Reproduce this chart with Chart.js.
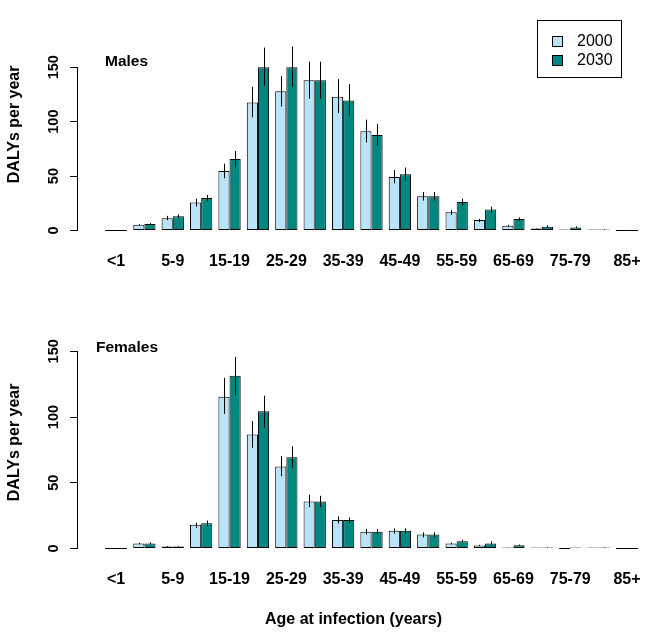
<!DOCTYPE html>
<html>
<head>
<meta charset="utf-8">
<script src="https://cdn.jsdelivr.net/npm/chart.js@4.4.1/dist/chart.umd.min.js"></script>
<style>
  body { margin: 0; background: #fff; }
  canvas { position: absolute; left: 0; }
  #males { top: 0; }
  #females { top: 318px; }
</style>
</head>
<body>
<canvas id="males" width="671" height="318"></canvas>
<canvas id="females" width="671" height="319"></canvas>
<script>
const ageGroups = ['<1', '1-4', '5-9', '10-14', '15-19', '20-24', '25-29', '30-34', '35-39', '40-44',
    '45-49', '50-54', '55-59', '60-64', '65-69', '70-74', '75-79', '80-84', '85+'];
const yTicks = [0, 50, 100, 150];

const males2000   = [0, 5.3, 11.4, 25.7, 54.7, 117.5, 128, 138, 122.8, 91.2, 49.1, 31.6, 16.7, 9.6, 4.5, 1.8, 0.6, 0.2, 0];
const males2000Lo = [0, 4.8, 9.5, 21.9, 48, 104, 114, 121, 108, 81, 43.3, 27.5, 14.3, 7.6, 3.8, 1.6, 0.5, 0.2, 0];
const males2000Hi = [0, 5.9, 13.5, 29.2, 61.4, 132, 142, 155, 139, 101.8, 55.6, 35.4, 19, 10.8, 5.2, 2.0, 0.7, 0.2, 0];
const males2030   = [0, 6.1, 13.2, 29.8, 65.8, 150, 150, 138, 119.3, 87.7, 51.8, 31.6, 26.3, 19.3, 10.5, 3.6, 2.8, 1.0, 0];
const males2030Lo = [0, 5.4, 11.5, 26.6, 58, 133, 132, 121, 105, 78, 45.9, 27.5, 22.8, 16.4, 8.8, 2.8, 2.1, 0.7, 0];
const males2030Hi = [0, 6.8, 14.9, 32.7, 73, 168, 169, 155, 134.5, 98, 57.9, 35.4, 29.2, 21.9, 12.1, 4.8, 3.8, 1.3, 0];

const females2000   = [0, 3.7, 1.5, 18, 115.5, 86.7, 62.3, 35.7, 21.7, 12.8, 13.5, 10.6, 3.8, 2.2, 0.6, 0.1, 0, 0.1, 0];
const females2000Lo = [0, 3.2, 1.2, 15.5, 102.5, 76.6, 54.9, 31.5, 19, 10.6, 11.3, 8.4, 3.2, 1.8, 0.5, 0.1, 0, 0.1, 0];
const females2000Hi = [0, 4.3, 1.8, 19.7, 129.8, 97, 70.4, 40.9, 24.4, 14.8, 15.3, 12.3, 4.5, 2.8, 0.8, 0.1, 0, 0.1, 0];
const females2030   = [0, 3.7, 1.5, 19.2, 131.5, 104.4, 69.5, 35.7, 21.7, 12.8, 13.5, 10.6, 5.4, 3.8, 2.4, 0.8, 0.1, 0.8, 0];
const females2030Lo = [0, 3.2, 1.2, 16.7, 116.5, 91.9, 61.6, 31.5, 19, 10.6, 11.3, 8.4, 4.5, 3.0, 2.0, 0.6, 0.1, 0.6, 0];
const females2030Hi = [0, 4.7, 1.8, 21.2, 145.8, 116.3, 77.8, 40.1, 23.6, 14.8, 15.3, 12.3, 6.6, 5.4, 3.0, 1.1, 0.2, 1.0, 0];

const seriesNames = ['2000', '2030'];
const seriesColors = ['#B9E3F9', '#008780'];

Chart.defaults.font.family = "'Liberation Sans', Arial, sans-serif";
Chart.defaults.color = '#000';

// vertical error bars over each bar
const errorBars = {
    id: 'errorBars',
    afterDatasetsDraw(chart) {
        const ctx = chart.ctx;
        const y = chart.scales.y;
        ctx.save();
        ctx.strokeStyle = '#000';
        ctx.lineWidth = 1;
        chart.data.datasets.forEach((ds, i) => {
            chart.getDatasetMeta(i).data.forEach((bar, j) => {
                if (ds.errHi[j] <= ds.errLo[j]) return;
                const x = Math.round(bar.x) + 0.5;
                ctx.beginPath();
                ctx.moveTo(x, y.getPixelForValue(ds.errLo[j]));
                ctx.lineTo(x, y.getPixelForValue(ds.errHi[j]));
                ctx.stroke();
            });
        });
        ctx.restore();
    }
};

// R style axis line, panel label and boxed legend
const extras = {
    id: 'extras',
    afterDraw(chart, args, opts) {
        const ctx = chart.ctx;
        const y = chart.scales.y;
        ctx.save();
        ctx.strokeStyle = '#000';
        ctx.lineWidth = 1;
        ctx.beginPath();
        ctx.moveTo(y.right - 0.5, y.getPixelForValue(yTicks[0]));
        ctx.lineTo(y.right - 0.5, y.getPixelForValue(yTicks[yTicks.length - 1]));
        ctx.stroke();

        ctx.fillStyle = '#000';
        ctx.font = "bold 15.5px 'Liberation Sans', Arial, sans-serif";
        ctx.textBaseline = 'middle';
        ctx.textAlign = 'left';
        ctx.fillText(opts.label, opts.labelX, opts.labelY);

        if (opts.legend) {
            ctx.strokeRect(537.5, 20.5, 84, 57);
            ctx.font = "16px 'Liberation Sans', Arial, sans-serif";
            seriesNames.forEach((name, i) => {
                const top = 36 + i * 19;
                ctx.fillStyle = seriesColors[i];
                ctx.fillRect(552, top, 11, 10);
                ctx.strokeRect(552.5, top + 0.5, 10, 10);
                ctx.fillStyle = '#000';
                ctx.fillText(name, 577, top + 6);
            });
        }
        ctx.restore();
    }
};

function drawPanel(id, label, labelX, labelY, d2000, lo2000, hi2000, d2030, lo2030, hi2030, yMin, yMax, padTop, xHeight, xTitle, legend) {
    const values = [d2000, d2030];
    const los = [lo2000, lo2030];
    const his = [hi2000, hi2030];
    new Chart(document.getElementById(id), {
        type: 'bar',
        data: {
            datasets: seriesNames.map((name, i) => ({
                label: name,
                data: values[i].map((v, j) => ({x: j, y: v})),
                errLo: los[i],
                errHi: his[i],
                backgroundColor: seriesColors[i],
                borderColor: '#000',
                borderWidth: 1,
                borderSkipped: false,
                minBarLength: 1,
                categoryPercentage: 0.785,
                barPercentage: 1,
                clip: false
            }))
        },
        options: {
            responsive: false,
            animation: false,
            devicePixelRatio: 1,
            layout: {padding: {left: 0, right: 42, top: padTop, bottom: 0}},
            plugins: {
                legend: {display: false},
                tooltip: {enabled: false},
                extras: {label: label, labelX: labelX, labelY: labelY, legend: legend}
            },
            scales: {
                x: {
                    type: 'linear',
                    min: -1.3386,
                    max: 18.07,
                    offset: false,
                    grid: {display: false, drawTicks: false, offset: false},
                    border: {display: false},
                    afterBuildTicks: s => { s.ticks = ageGroups.map((g, i) => ({value: i})).filter(t => t.value % 2 === 0); },
                    afterFit: s => { s.height = xHeight; },
                    ticks: {
                        autoSkip: false,
                        maxRotation: 0,
                        minRotation: 0,
                        padding: 16,
                        font: {size: 16, weight: 'bold'},
                        callback: v => ageGroups[v]
                    },
                    title: {
                        display: !!xTitle,
                        text: xTitle || '',
                        font: {size: 16, weight: 'bold'},
                        padding: {top: 0, bottom: 8}
                    }
                },
                y: {
                    min: yMin,
                    max: yMax,
                    grid: {display: true, drawOnChartArea: false, drawTicks: true, tickLength: 8, color: '#000'},
                    border: {display: false},
                    afterBuildTicks: s => { s.ticks = yTicks.map(v => ({value: v})); },
                    afterFit: s => { s.width = 78; },
                    ticks: {
                        minRotation: 90,
                        maxRotation: 90,
                        crossAlign: 'center',
                        padding: 4,
                        font: {size: 14.5, weight: 'bold'}
                    },
                    title: {
                        display: true,
                        text: 'DALYs per year',
                        font: {size: 16, weight: 'bold'},
                        padding: {top: 5, bottom: 0}
                    }
                }
            }
        },
        plugins: [errorBars, extras]
    });
}

drawPanel('males', 'Males', 105, 62, males2000, males2000Lo, males2000Hi, males2030, males2030Lo, males2030Hi,
    -5, 200, 2.3, 82, null, true);
drawPanel('females', 'Females', 96, 30, females2000, females2000Lo, females2000Hi, females2030, females2030Lo, females2030Hi,
    -4.21, 165.7, 6, 83, 'Age at infection (years)', false);
</script>
</body>
</html>
